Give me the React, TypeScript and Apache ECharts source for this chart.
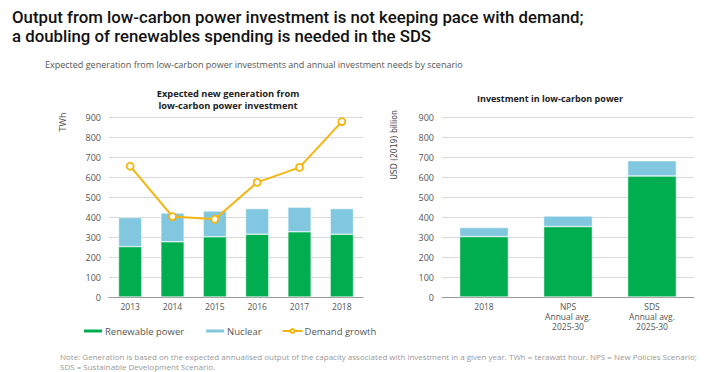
import React, { useEffect, useRef } from "react";
import * as echarts from "echarts";

const years = ["2013", "2014", "2015", "2016", "2017", "2018"];
const renewableGen = [252, 276, 301, 314, 326, 314];
const nuclearGen = [145, 144, 129, 128, 123, 128];
const demandGrowth = [654, 402, 389, 573, 648, 877];

const scenarios = ["2018", "NPS\nAnnual avg.\n2025-30", "SDS\nAnnual avg.\n2025-30"];
const renewableInv = [302, 352, 605];
const nuclearInv = [45, 53, 76];

const yTicks = { min: 0, max: 900, interval: 100 };

const GREEN = "#00ad4f";
const BLUE = "#80c7df";
const ORANGE = "#f5b50f";
const FONT = "'Open Sans', sans-serif";
const TITLE_FONT = "Roboto, sans-serif";

export default function App() {
  const ref = useRef<HTMLDivElement>(null);
  useEffect(() => {
    document.body.style.margin = "0";
    const chart = echarts.init(ref.current!, undefined, { renderer: "svg" });
    const axisLabel = { fontSize: 9, color: "#555", fontFamily: FONT };
    const yAxisCommon = {
      type: "value" as const,
      ...yTicks,
      axisLine: { show: false },
      axisTick: { show: false },
      axisLabel: { ...axisLabel, margin: 8 },
      splitLine: { lineStyle: { color: "#d9d9d9", width: 1 } },
    };
    const xAxisCommon = {
      type: "category" as const,
      axisLine: { lineStyle: { color: "#999" } },
      axisTick: { show: false },
      axisLabel: { ...axisLabel, fontSize: 8.5, margin: 4, lineHeight: 10 },
    };
    chart.setOption({
      animation: false,
      backgroundColor: "#fff",
      textStyle: { fontFamily: FONT },
      title: [
        {
          text: "Output from low-carbon power investment is not keeping pace with demand;\na doubling of renewables spending is needed in the SDS",
          left: 7,
          top: 2,
          textStyle: { fontSize: 16.8, fontWeight: 500, color: "#111", lineHeight: 19, fontFamily: TITLE_FONT },
        },
        {
          text: "Expected generation from low-carbon power investments and annual investment needs by scenario",
          left: 40,
          top: 55,
          textStyle: { fontSize: 9, fontWeight: "normal", color: "#555", fontFamily: FONT },
        },
        {
          text: "Expected new generation from\nlow-carbon power investment",
          left: 223,
          textAlign: "center",
          top: 82,
          textStyle: { fontSize: 9.3, fontWeight: "bold", color: "#222", lineHeight: 12.5, fontFamily: FONT },
        },
        {
          text: "Investment in low-carbon power",
          left: 545,
          textAlign: "center",
          top: 89,
          textStyle: { fontSize: 9, fontWeight: "bold", color: "#222", fontFamily: FONT },
        },
        {
          text:
            "Note: Generation is based on the expected annualised output of the capacity associated with investment in a given year. TWh = terawatt hour. NPS = New Policies Scenario;\nSDS = Sustainable Development Scenario.",
          left: 55,
          top: 346,
          textStyle: { fontSize: 8, fontWeight: "normal", color: "#999", lineHeight: 10, fontFamily: FONT },
        },
      ],
      graphic: [
        {
          type: "text",
          x: 62,
          y: 122,
          rotation: Math.PI / 2,
          style: { text: "TWh", fontSize: 9, fill: "#555", align: "center", verticalAlign: "middle", fontFamily: FONT },
        },
        {
          type: "text",
          x: 394,
          y: 145,
          rotation: Math.PI / 2,
          style: {
            text: "USD (2019) billion",
            fontSize: 8.5,
            fill: "#444",
            align: "center",
            verticalAlign: "middle",
            fontFamily: "'Liberation Sans Narrow', 'DejaVu Sans Condensed', sans-serif",
          },
        },
      ],
      legend: {
        left: 77,
        top: 321,
        itemWidth: 20,
        itemHeight: 5,
        itemGap: 20,
        textStyle: { fontSize: 9.5, color: "#555", padding: [0, 0, 0, -3], fontFamily: FONT },
        data: ["Renewable power", "Nuclear", "Demand growth"],
      },
      grid: [
        { left: 109, top: 117, width: 254, height: 180 },
        { left: 442, top: 117, width: 252, height: 180 },
      ],
      xAxis: [
        { ...xAxisCommon, gridIndex: 0, data: years },
        { ...xAxisCommon, gridIndex: 1, data: scenarios },
      ],
      yAxis: [
        { ...yAxisCommon, gridIndex: 0 },
        { ...yAxisCommon, gridIndex: 1 },
      ],
      series: [
        {
          name: "Renewable power",
          type: "bar",
          stack: "gen",
          xAxisIndex: 0,
          yAxisIndex: 0,
          barWidth: "55%",
          data: renewableGen,
          itemStyle: { color: GREEN, borderColor: "#fff", borderWidth: 0.5 },
        },
        {
          name: "Nuclear",
          type: "bar",
          stack: "gen",
          xAxisIndex: 0,
          yAxisIndex: 0,
          data: nuclearGen,
          itemStyle: { color: BLUE, borderColor: "#fff", borderWidth: 0.5 },
        },
        {
          name: "Demand growth",
          type: "line",
          xAxisIndex: 0,
          yAxisIndex: 0,
          data: demandGrowth,
          symbol: "circle",
          symbolSize: 7,
          lineStyle: { color: ORANGE, width: 2 },
          itemStyle: { color: "#fff", borderColor: ORANGE, borderWidth: 1.8 },
          z: 5,
        },
        {
          name: "Renewable power",
          type: "bar",
          stack: "inv",
          xAxisIndex: 1,
          yAxisIndex: 1,
          barWidth: "58%",
          data: renewableInv,
          itemStyle: { color: GREEN, borderColor: "#fff", borderWidth: 0.5 },
        },
        {
          name: "Nuclear",
          type: "bar",
          stack: "inv",
          xAxisIndex: 1,
          yAxisIndex: 1,
          data: nuclearInv,
          itemStyle: { color: BLUE, borderColor: "#fff", borderWidth: 0.5 },
        },
      ],
    });
    return () => chart.dispose();
  }, []);
  return <div ref={ref} style={{ width: 715, height: 372 }} />;
}
